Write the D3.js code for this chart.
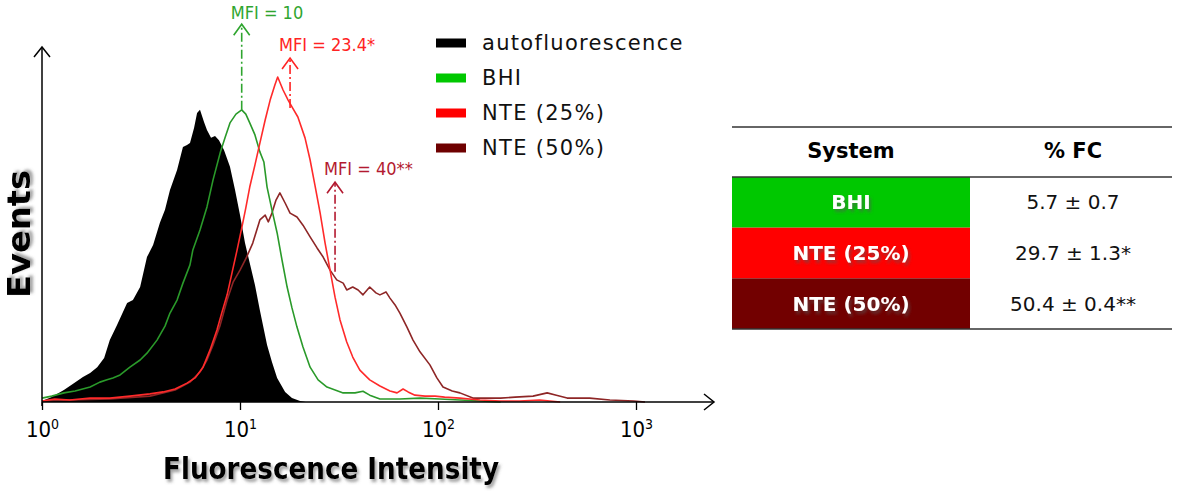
<!DOCTYPE html>
<html>
<head>
<meta charset="utf-8">
<script src="https://cdn.jsdelivr.net/npm/d3@7/dist/d3.min.js"></script>
<style>
  body { margin: 0; background: #fff; }
  svg { display: block; font-family: 'DejaVu Sans', sans-serif; }
</style>
</head>
<body>
<svg id="chart" width="1181" height="493"></svg>
<script>
// histogram data: [fluorescence intensity, events]
const autofluorescence = [
  [1.00,0.3],[1.12,1.5],[1.29,3.7],[1.43,5.5],[1.61,7.7],[1.75,8.9],[1.90,10.7],[2.06,13.5],
  [2.20,19.0],[2.39,23.6],[2.69,30.4],[2.88,31.3],[3.13,35.3],[3.39,44.5],[3.64,48.2],[3.94,55.0],
  [4.18,59.0],[4.43,65.1],[4.81,71.2],[5.15,78.3],[5.40,78.9],[5.59,79.5],[5.86,84.1],[6.07,88.7],
  [6.28,89.7],[6.58,86.0],[6.81,83.5],[7.14,81.1],[7.48,81.7],[7.83,80.4],[8.30,77.4],[8.90,72.2],
  [9.44,65.1],[10.0,57.4],[10.6,48.8],[11.2,42.7],[11.9,35.9],[12.6,28.2],[13.7,17.5],[14.5,12.3],
  [15.4,7.4],[16.9,3.1],[18.3,1.2],[20.1,0.3],[21.5,0]
];
const bhi = [
  [1.00,1.2],[1.12,1.8],[1.29,2.8],[1.47,3.4],[1.75,4.6],[1.96,6.1],[2.13,6.8],[2.28,7.4],
  [2.48,8.3],[2.78,10.7],[3.13,12.9],[3.39,15.0],[3.81,19.0],[4.18,23.3],[4.43,27.3],[4.81,31.3],
  [5.15,36.5],[5.59,42.1],[5.78,46.7],[6.28,52.8],[6.81,59.9],[7.31,68.2],[7.94,76.5],[8.40,81.1],
  [8.90,85.7],[9.54,88.4],[10.2,89.7],[10.7,88.4],[11.2,85.7],[11.9,82.0],[12.6,76.8],[13.2,73.7],
  [13.7,66.0],[14.5,59.0],[15.4,51.9],[16.3,43.6],[17.3,35.3],[18.3,28.9],[19.4,23.0],[20.8,16.9],
  [22.6,10.7],[24.8,6.8],[27.5,4.6],[33.2,2.8],[38.1,2.8],[41.8,3.3],[45.2,2.1],[50.9,0.9],
  [64.2,0.9],[81.1,1.2],[102,0.9],[129,0.6],[163,0.3],[207,0]
];
const nte25 = [
  [1.00,0.3],[1.16,0.9],[1.38,0.6],[1.75,1.2],[2.20,1.2],[2.78,1.8],[3.51,2.5],[4.09,3.1],
  [4.70,4.0],[5.40,5.8],[5.93,7.4],[6.51,10.7],[7.06,16.0],[7.65,22.1],[8.11,27.6],[8.61,32.9],
  [9.13,39.9],[9.67,46.7],[10.2,53.4],[10.7,59.6],[11.2,66.0],[11.9,72.8],[12.6,79.5],[13.4,86.6],
  [14.2,92.7],[15.0,97.3],[15.5,99.8],[16.5,95.8],[17.5,92.7],[18.3,90.6],[19.6,87.5],[21.3,81.1],
  [22.6,74.3],[23.9,66.6],[25.4,58.0],[26.9,48.8],[28.5,40.5],[30.2,32.2],[32.0,25.2],[34.6,18.4],
  [37.1,13.8],[40.3,9.8],[45.2,6.8],[50.9,4.9],[57.2,3.4],[62.1,2.8],[66.6,4.0],[70.6,3.1],
  [76.5,2.1],[86.0,1.8],[96.6,1.8],[108,1.5],[129,1.2],[163,0.6],[207,0.3],[258,0.3],
  [326,0.6],[414,0]
];
const nte50 = [
  [1.00,0.3],[1.38,0.6],[2.20,0.9],[3.51,1.8],[4.70,3.7],[5.59,6.1],[6.28,9.2],[6.81,12.9],
  [7.31,17.5],[7.94,23.6],[8.61,31.3],[9.23,36.8],[10.0,40.5],[10.8,44.5],[11.6,48.8],[12.6,55.9],
  [13.4,57.4],[13.9,55.3],[14.5,58.0],[15.2,62.0],[15.9,64.2],[16.9,61.1],[17.9,58.0],[19.4,56.8],
  [20.8,54.3],[22.6,50.7],[24.5,47.3],[26.3,44.5],[28.5,40.5],[30.8,37.5],[33.2,36.5],[34.6,34.4],
  [37.1,35.3],[39.5,34.4],[41.8,32.9],[45.2,35.3],[48.6,33.5],[50.9,32.9],[54.6,33.8],[57.2,31.9],
  [60.7,29.8],[64.2,27.3],[69.7,23.0],[74.8,19.0],[81.1,15.4],[91.0,11.4],[98.7,7.4],[106,4.6],
  [118,3.4],[129,2.8],[150,1.2],[183,1.2],[207,1.2],[245,1.5],[302,1.8],[356,2.8],
  [396,2.1],[449,1.2],[583,1.2],[738,0.6],[975,0.3],[1110,0]
];

const xTicks = [1, 10, 100, 1000];
const tickExponents = ['0', '1', '2', '3'];

const legendLabels = ['autofluorescence', 'BHI', 'NTE (25%)', 'NTE (50%)'];
const legendColors = ['#000000', '#00c800', '#ff0000', '#6e0000'];

// MFI markers: position, arrow from/to (events), label
const mfiLabels = ['MFI = 10', 'MFI = 23.4*', 'MFI = 40**'];
const mfiX = [10.2, 17.9, 30.2];
const mfiFrom = [89.7, 90.3, 40.0];
const mfiTo = [116.0, 105.6, 67.5];
const mfiColors = ['#2fa52f', '#ff2323', '#b31a30'];

const systems = ['BHI', 'NTE (25%)', 'NTE (50%)'];
const percentFC = ['5.7 ± 0.7', '29.7 ± 1.3*', '50.4 ± 0.4**'];
const systemColors = ['#00c800', '#ff0000', '#720000'];

const svg = d3.select('#chart');

const defs = svg.append('defs');
defs.append('filter')
  .attr('id', 'shadow')
  .attr('x', '-10%').attr('y', '-20%').attr('width', '130%').attr('height', '160%')
  .append('feDropShadow')
    .attr('dx', 2).attr('dy', 3).attr('stdDeviation', 1.5)
    .attr('flood-color', '#555').attr('flood-opacity', 0.55);

const x = d3.scaleLog().domain([1, 1000]).range([42, 636]);
const y = d3.scaleLinear().domain([0, 109]).range([402, 47]);

const plot = svg.append('g');

// autofluorescence filled histogram
plot.append('path')
  .datum(autofluorescence)
  .attr('fill', '#000')
  .attr('d', d3.area()
    .x(function(d){ return x(d[0]); })
    .y0(y(0))
    .y1(function(d){ return y(d[1]); }));

const line = d3.line()
  .x(function(d){ return x(d[0]); })
  .y(function(d){ return y(d[1]); });

const curves = [
  { data: nte50, color: '#8e2626' },
  { data: bhi, color: '#2a9a2a' },
  { data: nte25, color: '#ff2a2a' }
];

plot.selectAll('path.curve')
  .data(curves)
  .join('path')
  .attr('class', 'curve')
  .attr('fill', 'none')
  .attr('stroke', function(d){ return d.color; })
  .attr('stroke-width', 1.6)
  .attr('stroke-linejoin', 'round')
  .attr('d', function(d){ return line(d.data); });

// axes
const xAxis = svg.append('g')
  .attr('transform', 'translate(0,' + y(0) + ')')
  .call(d3.axisBottom(x).tickValues(xTicks).tickFormat('').tickSize(8));
xAxis.select('.domain').remove();
xAxis.selectAll('.tick line').attr('stroke', '#000').attr('stroke-width', 1.3);

const tickText = xAxis.selectAll('.tick')
  .append('text')
  .attr('fill', '#000')
  .attr('y', 35)
  .attr('text-anchor', 'middle')
  .style('font-family', "'DejaVu Sans Condensed', 'DejaVu Sans', sans-serif")
  .style('font-size', '22px');
tickText.append('tspan').text('10');
tickText.append('tspan')
  .attr('dy', -8)
  .style('font-size', '14px')
  .text(function(d, i){ return tickExponents[i]; });

const axisColor = '#000';
svg.append('line')
  .attr('x1', x(1)).attr('x2', 714)
  .attr('y1', y(0)).attr('y2', y(0))
  .attr('stroke', axisColor).attr('stroke-width', 1.5);
svg.append('path')
  .attr('d', 'M704,' + (y(0) - 8) + 'L714,' + y(0) + 'L704,' + (y(0) + 8))
  .attr('fill', 'none').attr('stroke', axisColor).attr('stroke-width', 1.5);

svg.append('line')
  .attr('x1', x(1)).attr('x2', x(1))
  .attr('y1', y(0) + 4).attr('y2', y(109))
  .attr('stroke', axisColor).attr('stroke-width', 1.5);
svg.append('path')
  .attr('d', 'M' + (x(1) - 8) + ',' + (y(109) + 10) + 'L' + x(1) + ',' + y(109) + 'L' + (x(1) + 8) + ',' + (y(109) + 10))
  .attr('fill', 'none').attr('stroke', axisColor).attr('stroke-width', 1.5);

svg.append('text')
  .attr('x', 163).attr('y', 479)
  .attr('textLength', 336).attr('lengthAdjust', 'spacingAndGlyphs')
  .attr('filter', 'url(#shadow)')
  .style('font-size', '31px').style('font-weight', 'bold')
  .text('Fluorescence Intensity');

svg.append('text')
  .attr('transform', 'translate(30,298) rotate(-90)')
  .attr('textLength', 128).attr('lengthAdjust', 'spacingAndGlyphs')
  .attr('filter', 'url(#shadow)')
  .style('font-size', '32px').style('font-weight', 'bold')
  .text('Events');

// MFI arrows
const mfi = svg.selectAll('g.mfi')
  .data(mfiLabels)
  .join('g')
  .attr('class', 'mfi');

mfi.append('line')
  .attr('x1', function(d, i){ return x(mfiX[i]); })
  .attr('x2', function(d, i){ return x(mfiX[i]); })
  .attr('y1', function(d, i){ return y(mfiFrom[i]); })
  .attr('y2', function(d, i){ return y(mfiTo[i]); })
  .attr('stroke', function(d, i){ return mfiColors[i]; })
  .attr('stroke-width', 1.6)
  .attr('stroke-dasharray', '9,3,2,3');

mfi.append('path')
  .attr('d', function(d, i){
    const px = x(mfiX[i]), py = y(mfiTo[i]);
    return 'M' + (px - 8) + ',' + (py + 11) + 'L' + px + ',' + py + 'L' + (px + 8) + ',' + (py + 11);
  })
  .attr('fill', 'none')
  .attr('stroke', function(d, i){ return mfiColors[i]; })
  .attr('stroke-width', 1.6);

mfi.append('text')
  .attr('x', function(d, i){ return x(mfiX[i]) - 11; })
  .attr('y', function(d, i){ return Math.max(y(mfiTo[i]) - 7, 19); })
  .attr('fill', function(d, i){ return mfiColors[i]; })
  .style('font-family', "'DejaVu Sans Condensed', 'DejaVu Sans', sans-serif")
  .style('font-size', '18px')
  .text(function(d){ return d; });

// legend
const legend = svg.append('g').attr('transform', 'translate(436,43)');
const legendRow = legend.selectAll('g')
  .data(legendLabels)
  .join('g')
  .attr('transform', function(d, i){ return 'translate(0,' + (i * 35) + ')'; });
legendRow.append('rect')
  .attr('x', 0).attr('y', -4.5)
  .attr('width', 30).attr('height', 9)
  .attr('fill', function(d, i){ return legendColors[i]; });
legendRow.append('text')
  .attr('x', 46).attr('y', 7)
  .attr('fill', '#111')
  .style('font-size', '21px')
  .style('letter-spacing', '1.3px')
  .text(function(d){ return d; });

// table
const tableLeft = 732, tableRight = 1172, tableSplit = 970;
const colSystem = (tableLeft + tableSplit) / 2;
const colFC = 1073;
const rowY = d3.scaleBand().domain(systems).range([177, 329]);

const table = svg.append('g');

table.selectAll('rect')
  .data(systems)
  .join('rect')
  .attr('x', tableLeft)
  .attr('y', function(d){ return rowY(d); })
  .attr('width', tableSplit - tableLeft)
  .attr('height', rowY.bandwidth())
  .attr('fill', function(d, i){ return systemColors[i]; });

table.selectAll('text.sys')
  .data(systems)
  .join('text')
  .attr('class', 'sys')
  .attr('x', colSystem)
  .attr('y', function(d){ return rowY(d) + rowY.bandwidth() / 2 + 7; })
  .attr('text-anchor', 'middle')
  .attr('fill', '#fff')
  .attr('filter', 'url(#shadow)')
  .style('font-size', '20px').style('font-weight', 'bold')
  .text(function(d){ return d; });

table.selectAll('text.fc')
  .data(percentFC)
  .join('text')
  .attr('class', 'fc')
  .attr('x', colFC)
  .attr('y', function(d, i){ return rowY(systems[i]) + rowY.bandwidth() / 2 + 7; })
  .attr('text-anchor', 'middle')
  .attr('fill', '#111')
  .style('font-size', '20px')
  .text(function(d){ return d; });

table.append('text')
  .attr('x', colSystem).attr('y', 158)
  .attr('text-anchor', 'middle')
  .style('font-size', '21px').style('font-weight', 'bold')
  .text('System');
table.append('text')
  .attr('x', colFC).attr('y', 158)
  .attr('text-anchor', 'middle')
  .style('font-size', '21px').style('font-weight', 'bold')
  .text('% FC');

table.selectAll('line')
  .data([127, 177, 329])
  .join('line')
  .attr('x1', tableLeft).attr('x2', tableRight)
  .attr('y1', function(d){ return d; }).attr('y2', function(d){ return d; })
  .attr('stroke', '#333')
  .attr('stroke-width', 1.5);
</script>
</body>
</html>
